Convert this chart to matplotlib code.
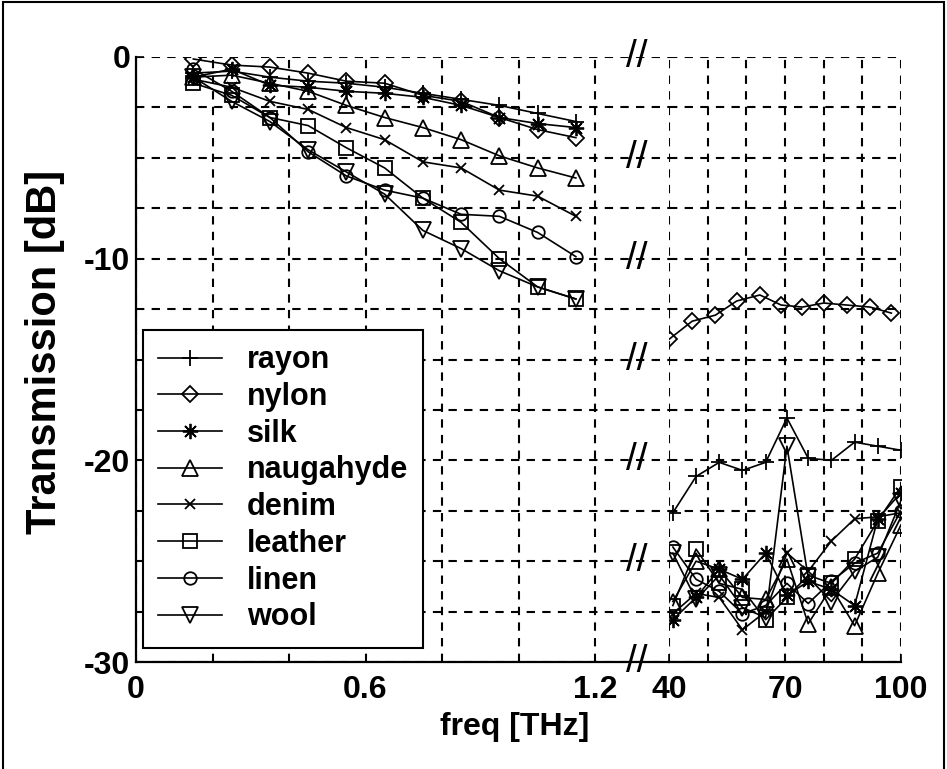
import matplotlib.pyplot as plt
from matplotlib.patches import Rectangle

plt.rcParams['font.family'] = ['Liberation Sans', 'DejaVu Sans']
plt.rcParams['axes.unicode_minus'] = False

# materials, legend order
materials = ['rayon', 'nylon', 'silk', 'naugahyde', 'denim', 'leather', 'linen', 'wool']
markers = ['+', 'D', (8, 2, 0), '^', 'x', 's', 'o', 'v']
msizes = [12, 8, 11, 11, 7, 10, 9, 11]

# THz part (left panel)
freq_thz = [0.15, 0.25, 0.35, 0.45, 0.55, 0.65, 0.75, 0.85, 0.95, 1.05, 1.15]
rayon_thz = [-0.8, -0.7, -1.0, -1.2, -1.3, -1.5, -1.8, -2.1, -2.4, -2.8, -3.2]
nylon_thz = [-0.1, -0.4, -0.5, -0.8, -1.2, -1.3, -1.9, -2.2, -3.0, -3.6, -4.0]
silk_thz = [-1.0, -0.6, -1.4, -1.5, -1.7, -1.8, -2.0, -2.4, -3.0, -3.3, -3.5]
naugahyde_thz = [-1.0, -0.9, -1.3, -1.7, -2.4, -3.0, -3.5, -4.1, -4.9, -5.5, -6.0]
denim_thz = [-1.1, -1.5, -2.2, -2.6, -3.5, -4.1, -5.2, -5.5, -6.6, -6.9, -7.9]
leather_thz = [-1.3, -1.9, -3.0, -3.4, -4.5, -5.5, -7.0, -8.2, -10.0, -11.4, -12.0]
linen_thz = [-0.6, -1.7, -3.0, -4.7, -5.9, -6.6, -7.0, -7.8, -7.9, -8.7, -9.9]
wool_thz = [-1.0, -2.2, -3.2, -4.6, -5.7, -6.8, -8.6, -9.5, -10.6, -11.4, -12.0]

# mid-IR part (right panel)
freq_ir = [41, 47, 53, 59, 65, 70.5, 76, 82, 88, 94, 100]
freq_ir_nylon = [40, 46, 52, 57.5, 63.5, 69, 74.5, 80, 86, 92, 97.5]
rayon_ir = [-22.6, -20.8, -20.1, -20.5, -20.1, -17.9, -19.9, -20.0, -19.1, -19.3, -19.5]
nylon_ir = [-14.0, -13.1, -12.8, -12.1, -11.8, -12.3, -12.4, -12.2, -12.3, -12.4, -12.7]
silk_ir = [-27.9, -26.8, -25.4, -25.9, -24.6, -26.7, -26.0, -26.4, -27.2, -22.9, -21.6]
naugahyde_ir = [-27.0, -25.0, -25.4, -26.8, -26.9, -24.9, -28.1, -26.3, -28.2, -25.6, -23.2]
denim_ir = [-27.6, -26.6, -26.8, -28.4, -27.5, -24.6, -25.5, -24.0, -22.9, -22.8, -22.6]
leather_ir = [-27.2, -24.4, -26.1, -26.4, -27.9, -26.8, -25.7, -26.1, -24.9, -23.0, -21.3]
linen_ir = [-24.3, -25.9, -26.5, -27.6, -27.2, -26.1, -27.1, -26.0, -25.1, -24.6, -22.5]
wool_ir = [-24.6, -26.9, -25.7, -27.3, -27.8, -19.3, -25.8, -27.0, -25.5, -24.8, -22.0]

thz_data = [rayon_thz, nylon_thz, silk_thz, naugahyde_thz, denim_thz, leather_thz, linen_thz, wool_thz]
ir_data = [rayon_ir, nylon_ir, silk_ir, naugahyde_ir, denim_ir, leather_ir, linen_ir, wool_ir]

W, H = 947, 769
fig = plt.figure(figsize=(W / 100, H / 100), dpi=100)
ax1 = fig.add_axes([136 / W, 1 - 662 / H, (669 - 136) / W, (662 - 57) / H])
ax2 = fig.add_axes([669 / W, 1 - 662 / H, (901 - 669) / W, (662 - 57) / H])

grid_kw = dict(color='black', linestyle=(0, (4, 3.5)), linewidth=1.5)

for ax in (ax1, ax2):
    ax.set_ylim(-30, 0)
    ax.set_yticks([0, -10, -20, -30])
    ax.set_yticks([-2.5, -5, -7.5, -12.5, -15, -17.5, -22.5, -25, -27.5], minor=True)
    ax.grid(True, which='both', **grid_kw)
    ax.set_axisbelow(True)
    for s in ('top', 'right'):
        ax.spines[s].set_visible(False)
    ax.spines['bottom'].set_linewidth(1.6)
    ax.tick_params(which='both', direction='in', length=6, width=1.2, labelsize=23, pad=9)

ax1.set_xlim(0, 1.2 * (669 - 136) / (595 - 136))
ax1.set_xticks([0, 0.6, 1.2])
ax1.set_xticklabels(['0', '0.6', '1.2'], fontweight='bold')
ax1.set_xticks([0.2, 0.4, 0.8, 1.0], minor=True)
ax1.set_yticklabels(['0', '-10', '-20', '-30'], fontweight='bold')
ax1.spines['left'].set_linewidth(1.6)
ax1.tick_params(axis='y', pad=4)

ax2.set_xlim(40, 100)
ax2.set_xticks([40, 70, 100])
ax2.set_xticklabels(['40', '70', '100'], fontweight='bold')
ax2.set_xticks([50, 60, 80, 90], minor=True)
ax2.spines['left'].set_visible(False)
ax2.tick_params(axis='y', which='both', left=False, labelleft=False)

for name, mk, ms, yl, yr in zip(materials, markers, msizes, thz_data, ir_data):
    ax1.plot(freq_thz, yl, color='black', lw=1.2, marker=mk, ms=ms,
             mfc='none', mec='black', mew=1.3, label=name)
    xr = freq_ir_nylon if name == 'nylon' else freq_ir
    ax2.plot(xr, yr, color='black', lw=1.2, marker=mk, ms=ms,
             mfc='none', mec='black', mew=1.3)

# axis break marks
for yb in [0, -5, -10, -15, -20, -25, -30]:
    ax1.text(1.31, yb, '//', ha='center', va='center', fontsize=28, clip_on=False)

leg = ax1.legend(loc='upper left', bbox_to_anchor=(143 / W, 1 - 330 / H),
                 bbox_transform=fig.transFigure, prop={'size': 22, 'weight': 'bold'},
                 frameon=True, fancybox=False, framealpha=1, edgecolor='black',
                 borderaxespad=0, handlelength=2.1, handletextpad=0.8,
                 labelspacing=0.22, borderpad=0.5)
leg.get_frame().set_linewidth(1.5)

fig.text(45 / W, 1 - 352 / H, 'Transmission [dB]', rotation=90, ha='center',
         va='center', fontsize=30, fontweight='bold')
fig.text(515 / W, 1 - 727 / H, 'freq [THz]', ha='center', va='center',
         fontsize=23, fontweight='bold')

fig.add_artist(Rectangle((3 / W, -0.05), 941 / W, 1.05 - 2 / H, transform=fig.transFigure,
                         fill=False, edgecolor='black', linewidth=1.5))

fig.savefig('out.png', dpi=100)
